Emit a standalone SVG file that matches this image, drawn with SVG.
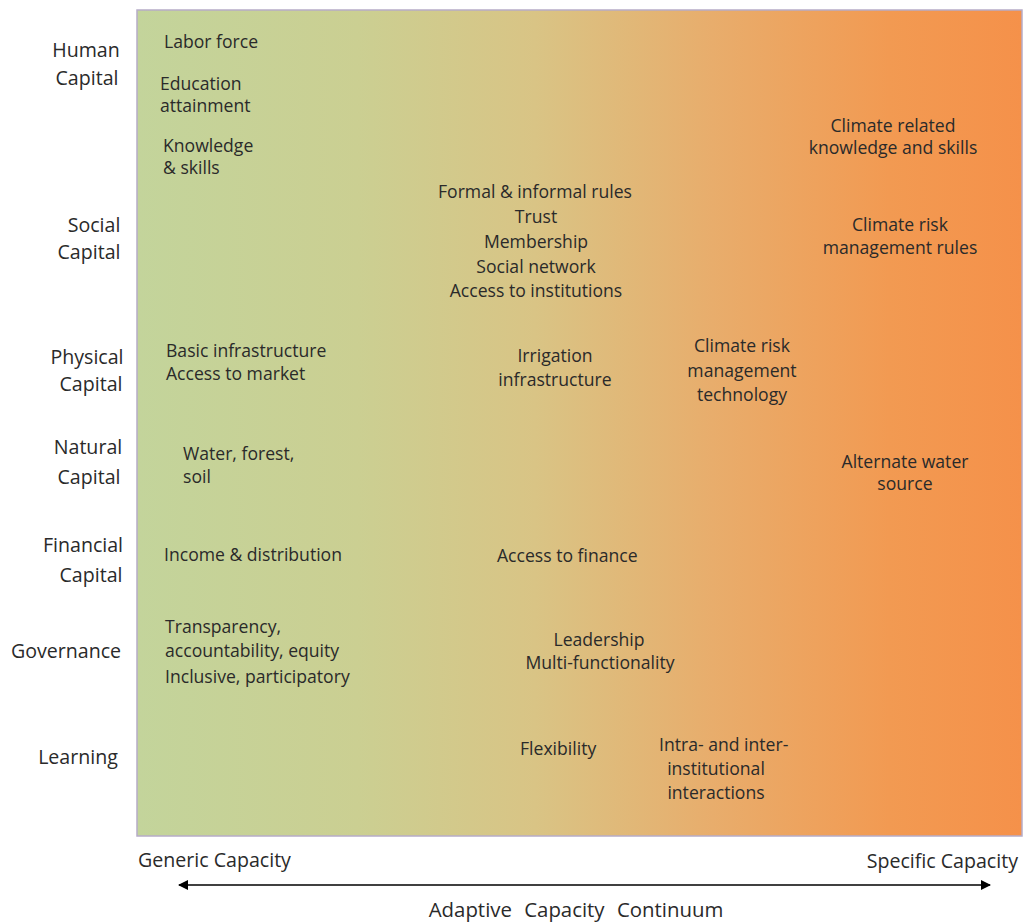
<svg xmlns="http://www.w3.org/2000/svg" width="1023" height="922" viewBox="0 0 1023 922">
  <style>
    text { font-family: "Open Sans", "Liberation Sans", sans-serif; font-size: 17.6px; fill: #2a2a2a; }
    .row { text-anchor: middle; font-size: 19.6px; }
    .mid { text-anchor: middle; }
    .axis { font-size: 19.6px; }
    .title { font-size: 20.4px; text-anchor: middle; word-spacing: 7px; }
  </style>
  <defs>
    <linearGradient id="continuum" x1="0" y1="0" x2="1" y2="0">
      <stop offset="0" stop-color="#c3d49b"/>
      <stop offset="0.25" stop-color="#cbcf92"/>
      <stop offset="0.45" stop-color="#d9c485"/>
      <stop offset="0.65" stop-color="#e8ad6c"/>
      <stop offset="0.85" stop-color="#f29a52"/>
      <stop offset="1" stop-color="#f5914a"/>
    </linearGradient>
    <marker id="head" viewBox="0 0 10 10" refX="9" refY="5" markerWidth="11" markerHeight="10" markerUnits="userSpaceOnUse" orient="auto-start-reverse">
      <path d="M0,0 L10,5 L0,10 z" fill="#000"/>
    </marker>
  </defs>

  <!-- background panel -->
  <rect x="137" y="10" width="885" height="826" fill="url(#continuum)" stroke="#b6acc8" stroke-width="1.5"/>

  <!-- row labels -->
  <g id="row-human"><text class="row" x="86" y="57">Human</text><text class="row" x="87" y="85">Capital</text></g>
  <g id="row-social"><text class="row" x="94" y="232">Social</text><text class="row" x="89" y="259">Capital</text></g>
  <g id="row-physical"><text class="row" x="87" y="364">Physical</text><text class="row" x="91" y="391">Capital</text></g>
  <g id="row-natural"><text class="row" x="88" y="454">Natural</text><text class="row" x="89" y="484">Capital</text></g>
  <g id="row-financial"><text class="row" x="83" y="552">Financial</text><text class="row" x="91" y="582">Capital</text></g>
  <g id="row-governance"><text class="row" x="66" y="658">Governance</text></g>
  <g id="row-learning"><text class="row" x="78" y="764">Learning</text></g>

  <!-- human capital -->
  <g id="labor-force"><text x="164" y="48">Labor force</text></g>
  <g id="education"><text x="160" y="90">Education</text><text x="160" y="112">attainment</text></g>
  <g id="knowledge"><text x="163" y="152">Knowledge</text><text x="163" y="174">&amp; skills</text></g>
  <g id="climate-knowledge"><text class="mid" x="893" y="132">Climate related</text><text class="mid" x="893" y="154">knowledge and skills</text></g>

  <!-- social capital -->
  <g id="social-items">
    <text class="mid" x="535" y="198">Formal &amp; informal rules</text>
    <text class="mid" x="536" y="223">Trust</text>
    <text class="mid" x="536" y="248">Membership</text>
    <text class="mid" x="536" y="273">Social network</text>
    <text class="mid" x="536" y="297">Access to institutions</text>
  </g>
  <g id="climate-rules"><text class="mid" x="900" y="231">Climate risk</text><text class="mid" x="900" y="254">management rules</text></g>

  <!-- physical capital -->
  <g id="basic-infra"><text x="166" y="357">Basic infrastructure</text><text x="166" y="380">Access to market</text></g>
  <g id="irrigation"><text class="mid" x="555" y="362">Irrigation</text><text class="mid" x="555" y="386">infrastructure</text></g>
  <g id="climate-tech"><text class="mid" x="742" y="352">Climate risk</text><text class="mid" x="742" y="377">management</text><text class="mid" x="742" y="401">technology</text></g>

  <!-- natural capital -->
  <g id="water-forest"><text x="183" y="460">Water, forest,</text><text x="183" y="483">soil</text></g>
  <g id="alt-water"><text class="mid" x="905" y="468">Alternate water</text><text class="mid" x="905" y="490">source</text></g>

  <!-- financial capital -->
  <g id="income"><text x="164" y="561">Income &amp; distribution</text></g>
  <g id="finance-access"><text x="497" y="562">Access to finance</text></g>

  <!-- governance -->
  <g id="transparency"><text x="165" y="633">Transparency,</text><text x="165" y="657">accountability, equity</text><text x="165" y="683">Inclusive, participatory</text></g>
  <g id="leadership"><text class="mid" x="599" y="646">Leadership</text><text class="mid" x="600" y="669">Multi-functionality</text></g>

  <!-- learning -->
  <g id="flexibility"><text x="520" y="755">Flexibility</text></g>
  <g id="interactions"><text x="659" y="751">Intra- and inter-</text><text class="mid" x="716" y="775">institutional</text><text class="mid" x="716" y="799">interactions</text></g>

  <!-- continuum axis -->
  <g id="connectors">
    <line x1="179" y1="885" x2="990" y2="885" stroke="#000" stroke-width="1.5" marker-start="url(#head)" marker-end="url(#head)"/>
  </g>
  <g id="axis-labels">
    <text class="axis" x="138" y="867">Generic Capacity</text>
    <text class="axis" x="1018" y="868" text-anchor="end">Specific Capacity</text>
    <text class="title" x="576" y="917">Adaptive Capacity Continuum</text>
  </g>
</svg>
